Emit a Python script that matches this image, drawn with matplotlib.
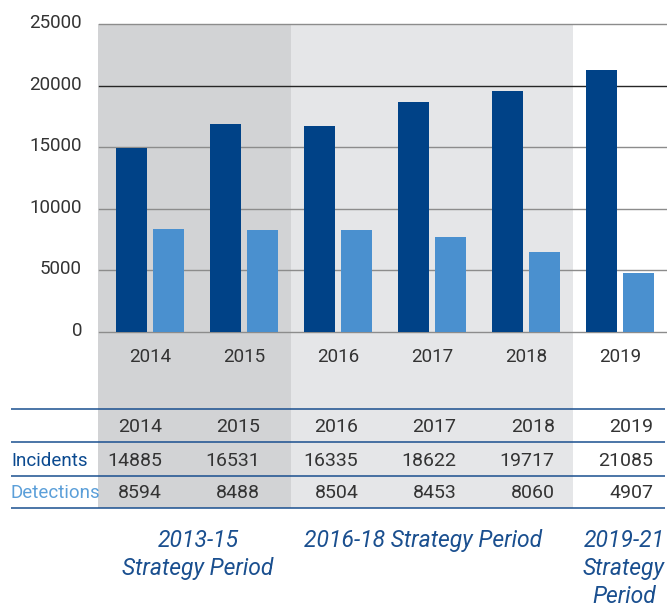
import matplotlib
matplotlib.use("Agg")
import matplotlib.pyplot as plt
from matplotlib.transforms import blended_transform_factory, ScaledTranslation
from matplotlib.patches import Rectangle

# ---------------- data ----------------
years = ["2014", "2015", "2016", "2017", "2018", "2019"]
incidents_bars = [14900, 16850, 16700, 18650, 19550, 21250]
detections_bars = [8350, 8250, 8250, 7700, 6480, 4770]
incidents_table = ["14885", "16531", "16335", "18622", "19717", "21085"]
detections_table = ["8594", "8488", "8504", "8453", "8060", "4907"]
yticks = [0, 5000, 10000, 15000, 20000, 25000]
periods = ["2013-15\nStrategy Period", "2016-18 Strategy Period", "2019-21\nStrategy\nPeriod"]
period_bounds = [(-0.55, 1.5), (1.5, 4.5), (4.5, 5.5)]
period_shades = ["#d2d3d5", "#e5e6e8", "none"]

# ---------------- style ----------------
plt.rcParams["font.family"] = ["Roboto", "DejaVu Sans"]
DARK = "#004287"
LIGHT = "#4a90cf"
TXT = "#333333"
NAVY = "#1a4f8f"

W, H = 667, 607
fig = plt.figure(figsize=(W / 100, H / 100), dpi=100)

def fx(px):
    return px / W

def fy(py):
    return 1 - py / H

ax_left, ax_right, ax_top, ax_bot = 99, 667, 24, 331.7
ax = fig.add_axes([fx(ax_left), fy(ax_bot), fx(ax_right - ax_left), (ax_bot - ax_top) / H])
ax.patch.set_visible(False)
ax.set_zorder(2)

x = list(range(len(years)))
bw = 0.33
off = 0.197
ax.bar([i - off for i in x], incidents_bars, width=bw, color=DARK, zorder=3)
ax.bar([i + off for i in x], detections_bars, width=bw, color=LIGHT, zorder=3)

ax.set_xlim(-0.543, 5.5)
ax.set_ylim(0, 25000)
ax.set_yticks(yticks)
ax.set_yticklabels([str(v) for v in yticks])
ax.set_xticks(x)
ax.set_xticklabels(years)
for s in ax.spines.values():
    s.set_visible(False)
ax.tick_params(axis="y", length=0, pad=12.2, labelsize=13.5, labelcolor=TXT)
ax.tick_params(axis="x", length=0, pad=21.6, labelsize=13.5, labelcolor=TXT)
for lbl in ax.get_xticklabels():
    lbl.set_va("baseline")
shift = ScaledTranslation(0, -4 / 100, fig.dpi_scale_trans)
for lbl in ax.get_yticklabels():
    lbl.set_va("baseline")
    lbl.set_transform(lbl.get_transform() + shift)

ax.set_axisbelow(True)
ax.grid(axis="y", color="#8c8c8c", linewidth=1.0)
ax.grid(axis="x", visible=False)
for v, gl in zip(ax.get_yticks(), ax.get_ygridlines()):
    gl.set_clip_on(False)
    if v == 20000:
        gl.set_color("#262626")

# period shading (x in data, y in figure)
trans = blended_transform_factory(ax.transData, fig.transFigure)
for (a, b), c in zip(period_bounds, period_shades):
    if c != "none":
        ax.add_patch(Rectangle((a, fy(508)), b - a, fy(24) - fy(508), transform=trans,
                               facecolor=c, edgecolor="none", zorder=0, clip_on=False))

# ---------------- table (pixel overlay) ----------------
ov = fig.add_axes([0, 0, 1, 1])
ov.set_xlim(0, W)
ov.set_ylim(H, 0)
ov.axis("off")
ov.set_zorder(3)
ov.patch.set_visible(False)

for yy in [409, 442, 475.5, 508]:
    ov.plot([11, 665], [yy, yy], color=NAVY, linewidth=1.1, solid_capstyle="butt")

col_right = [162 + 98.2 * i for i in range(len(years))]
for cx, yr, inc, det in zip(col_right, years, incidents_table, detections_table):
    ov.text(cx, 432.5, yr, ha="right", va="baseline", fontsize=14, color=TXT)
    ov.text(cx, 466, inc, ha="right", va="baseline", fontsize=14, color=TXT)
    ov.text(cx, 498.5, det, ha="right", va="baseline", fontsize=14, color=TXT)
ov.text(11, 466, "Incidents", ha="left", va="baseline", fontsize=13.5, color="#0b4a90")
ov.text(11, 498.5, "Detections", ha="left", va="baseline", fontsize=13.5, color="#5b9fd9")

period_cx = [198, 423, 624]
for cx, lab in zip(period_cx, periods):
    for j, line in enumerate(lab.split("\n")):
        ov.text(cx, 547 + 28 * j, line, ha="center", va="baseline", fontsize=16.5,
                style="italic", color=NAVY)

fig.savefig("out.png", dpi=100)
